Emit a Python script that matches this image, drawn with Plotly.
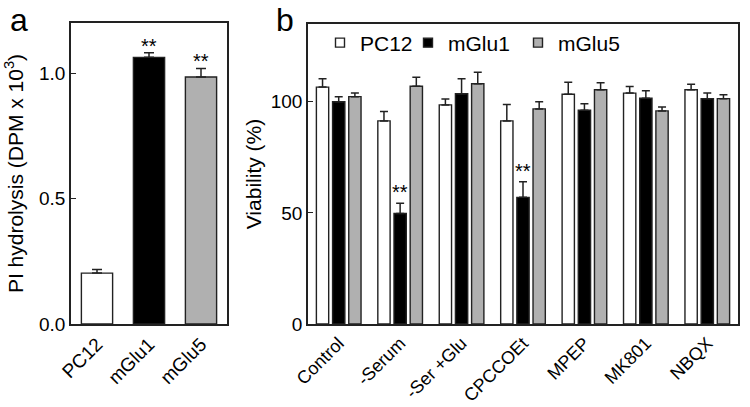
import plotly.graph_objects as go

# Panel a data
a_cats = ["PC12", "mGlu1", "mGlu5"]
a_vals = [0.203, 1.063, 0.985]
a_err = [0.014, 0.018, 0.034]
a_sig = ["", "**", "**"]

# Panel b data
b_cats = ["Control", "-Serum", "-Ser +Glu", "CPCCOEt", "MPEP", "MK801", "NBQX"]
b_pc12 = [106.6, 91.4, 98.6, 91.4, 103.4, 103.9, 105.4]
b_pc12_err = [3.8, 4.2, 2.6, 7.4, 5.4, 3.0, 2.5]
b_mglu1 = [100.0, 49.7, 103.6, 57.0, 96.2, 101.6, 101.4]
b_mglu1_err = [2.3, 4.6, 6.8, 7.0, 2.9, 3.4, 2.5]
b_mglu5 = [102.3, 107.0, 108.1, 96.8, 105.4, 95.9, 101.4]
b_mglu5_err = [1.6, 4.0, 5.2, 3.2, 3.2, 1.7, 1.8]
b_sig_mglu1 = ["", "**", "", "**", "", "", ""]

series_names = ["PC12", "mGlu1", "mGlu5"]
fills = ["white", "black", "#b0b0b0"]
edge = "#222222"
FONT = "Liberation Sans, Arial, sans-serif"

fig = go.Figure()

# Panel a bars
fig.add_trace(go.Bar(
    x=a_cats, y=a_vals, xaxis="x", yaxis="y",
    marker=dict(color=fills, line=dict(color=edge, width=1.4)),
    error_y=dict(type="data", array=a_err, arrayminus=[0]*3, symmetric=False,
                 color=edge, thickness=1.5, width=5),
    showlegend=False,
))

# Panel b bars
b_series = [(b_pc12, b_pc12_err), (b_mglu1, b_mglu1_err), (b_mglu5, b_mglu5_err)]
legends = ["legend", "legend2", "legend3"]
for i, (vals, errs) in enumerate(b_series):
    fig.add_trace(go.Bar(
        x=b_cats, y=vals, name=series_names[i], xaxis="x2", yaxis="y2",
        marker=dict(color=fills[i], line=dict(color=edge, width=1.4)),
        error_y=dict(type="data", array=errs, arrayminus=[0]*len(errs), symmetric=False,
                     color=edge, thickness=1.5, width=4),
        showlegend=False,
    ))
    # legend entry (no data, legend symbol only)
    fig.add_trace(go.Scatter(
        x=[None], y=[None], name=series_names[i], xaxis="x2", yaxis="y2",
        mode="markers",
        marker=dict(symbol="square", size=9, color=fills[i], line=dict(color=edge, width=1.4)),
        legend=legends[i], showlegend=True,
    ))

annotations = []
for c, v, e, s in zip(a_cats, a_vals, a_err, a_sig):
    if s:
        annotations.append(dict(x=c, y=v + e, xref="x", yref="y", text=s, showarrow=False,
                                yanchor="bottom", yshift=-6, font=dict(size=20, color="black", family=FONT)))
for c, v, e, s in zip(b_cats, b_mglu1, b_mglu1_err, b_sig_mglu1):
    if s:
        annotations.append(dict(x=c, y=v + e, xref="x2", yref="y2", text=s, showarrow=False,
                                yanchor="bottom", yshift=-2, font=dict(size=20, color="black", family=FONT)))

annotations.append(dict(x=8/750, y=1-20/407, xref="paper", yref="paper", text="a", showarrow=False,
                        xanchor="left", yanchor="middle", font=dict(size=32, color="black", family=FONT)))
annotations.append(dict(x=274/750, y=1-20/407, xref="paper", yref="paper", text="b", showarrow=False,
                        xanchor="left", yanchor="middle", font=dict(size=32, color="black", family=FONT)))

axis_common = dict(showline=True, linecolor="#222222", linewidth=1.5, mirror=True,
                   showgrid=False, zeroline=False, automargin=False)

legend_common = dict(orientation="h", bgcolor="rgba(0,0,0,0)", borderwidth=0,
                     font=dict(size=21, color="black", family=FONT),
                     xanchor="left", yanchor="middle", y=1-43/407)

fig.update_layout(
    width=750, height=407,
    margin=dict(l=0, r=0, t=0, b=0, autoexpand=False),
    paper_bgcolor="white", plot_bgcolor="white",
    font=dict(family=FONT, size=18, color="black"),
    barmode="group", bargap=0.21, bargroupgap=0.24,
    xaxis=dict(domain=[71/750, 227/750], anchor="y", tickangle=-45, ticks="",
               tickfont=dict(size=19), range=[-0.5, 2.5], **axis_common),
    yaxis=dict(domain=[1-324/407, 1-23/407], anchor="x", range=[0, 1.2], dtick=0.5,
               tickformat=".1f", ticks="inside", ticklen=5, tickcolor="#222222",
               tickfont=dict(size=19),
               title=dict(text="PI hydrolysis (DPM x 10<sup>3</sup>)", font=dict(size=21), standoff=10),
               **axis_common),
    xaxis2=dict(domain=[308/750, 738/750], anchor="y2", tickangle=-45, ticks="",
                tickfont=dict(size=18), range=[-0.5, 6.5], **axis_common),
    yaxis2=dict(domain=[1-324/407, 1-24/407], anchor="x2", range=[0, 135], dtick=50,
                ticks="inside", ticklen=5, tickcolor="#222222", tickfont=dict(size=19),
                title=dict(text="Viability (%)", font=dict(size=21), standoff=3),
                **axis_common),
    legend=dict(x=320/750, **legend_common),
    legend2=dict(x=408/750, **legend_common),
    legend3=dict(x=518/750, **legend_common),
    annotations=annotations,
)

fig.write_html("out.html",
               config={"displayModeBar": False},
               post_script="document.body.style.margin='0px'; document.body.style.overflow='hidden';")
